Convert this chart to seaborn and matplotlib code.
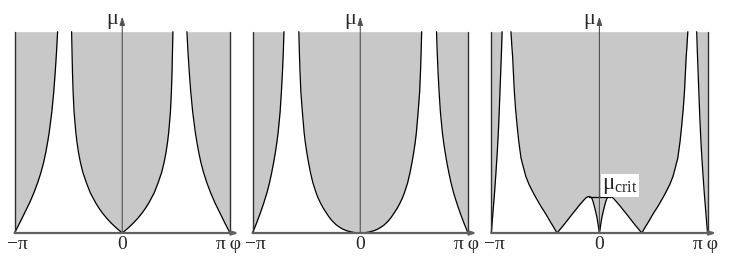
import numpy as np
import pandas as pd
import matplotlib
matplotlib.use("Agg")
import matplotlib.pyplot as plt
import seaborn as sns

# ---------------- data (phi in units of pi, mu normalised: top of chart = 1) -------------
# Panel 1
p1_center_mu = [0, 0.025, 0.05, 0.075, 0.1, 0.125, 0.15, 0.2, 0.25, 0.3, 0.35, 0.4, 0.45,
                0.5, 0.6, 0.7, 0.8, 0.9, 1.0]
p1_center_half = [0, 0.055, 0.104, 0.147, 0.185, 0.218, 0.247, 0.297, 0.333, 0.365, 0.388,
                  0.406, 0.42, 0.431, 0.447, 0.456, 0.462, 0.466, 0.47]
p1_outer_mu = [0, 0.05, 0.1, 0.15, 0.2, 0.25, 0.3, 0.35, 0.4, 0.45, 0.5, 0.6, 0.7, 0.8, 0.9, 1.0]
p1_outer_width = [0, 0.048, 0.094, 0.14, 0.18, 0.215, 0.245, 0.27, 0.29, 0.307, 0.322, 0.346,
                  0.364, 0.378, 0.39, 0.40]

# Panel 2
p2_center_mu = [0, 0.002, 0.006, 0.012, 0.02, 0.03, 0.04, 0.06, 0.08, 0.1, 0.125, 0.15, 0.175,
                0.2, 0.25, 0.3, 0.35, 0.4, 0.45, 0.5, 0.6, 0.7, 0.8, 0.9, 1.0]
p2_center_half = [0, 0.05, 0.09, 0.13, 0.165, 0.195, 0.222, 0.26, 0.29, 0.315, 0.345, 0.37, 0.392,
                  0.41, 0.44, 0.462, 0.48, 0.496, 0.51, 0.521, 0.537, 0.551, 0.559, 0.565, 0.57]
p2_outer_mu = [0, 0.05, 0.1, 0.15, 0.2, 0.25, 0.3, 0.35, 0.4, 0.45, 0.5, 0.6, 0.7, 0.8, 0.9, 1.0]
p2_outer_width = [0, 0.038, 0.073, 0.105, 0.134, 0.158, 0.178, 0.196, 0.212, 0.226, 0.238, 0.256,
                  0.268, 0.278, 0.286, 0.292]

# Panel 3
p3_sliver_mu = [0, 0.1, 0.2, 0.3, 0.4, 0.5, 0.6, 0.7, 0.8, 0.9, 1.0]
p3_sliver_width = [0, 0.015, 0.03, 0.043, 0.055, 0.065, 0.073, 0.08, 0.087, 0.094, 0.10]
p3_phi_left = [-0.818, -0.810, -0.802, -0.795, -0.787, -0.776, -0.762, -0.746, -0.725, -0.70,
               -0.68, -0.65, -0.617, -0.59, -0.56, -0.535, -0.509, -0.48, -0.45, -0.42, -0.392,
               -0.33, -0.26, -0.19, -0.15, -0.13, -0.112, -0.095, -0.08, -0.07, -0.058, -0.046,
               -0.035, -0.024, -0.016, -0.009, -0.004, 0.0]
p3_mu_left = [1.0, 0.93, 0.869, 0.79, 0.703, 0.62, 0.537, 0.455, 0.372, 0.32,
              0.28, 0.24, 0.205, 0.178, 0.15, 0.127, 0.106, 0.08, 0.052, 0.026, 0.0,
              0.04, 0.088, 0.135, 0.16, 0.172, 0.179, 0.181, 0.178, 0.173, 0.155, 0.131,
              0.107, 0.081, 0.056, 0.031, 0.012, 0.0]
mu_crit = 0.181
mu_crit_half = 0.10

tick_labels = ["\u2212\u03c0", "0", "\u03c0\u2009\u03c6"]
y_label = "\u03bc"
crit_label = "\u03bc$_{\\mathrm{crit}}$"

# ---------------- style ----------------
sns.set_theme(style="white")
plt.rcParams["font.family"] = ["Liberation Serif", "DejaVu Serif"]
plt.rcParams["mathtext.fontset"] = "custom"
plt.rcParams["mathtext.rm"] = "Liberation Serif"
GRAY = "#c8c8c8"
PI = np.pi

W, H = 733, 267
fig = plt.figure(figsize=(W / 100, H / 100), dpi=100)

# pixel positions of -pi and +pi for each panel
panel_px = [(14.5, 230.0), (252.5, 468.0), (491.3, 707.5)]
base_px, top_px = 233.0, 31.7
scale_y = base_px - top_px


def make_ax(xn, xp):
    unit = (xp - xn) / (2 * PI)
    left_px, right_px = xn - 14, xp + 16
    ax = fig.add_axes([left_px / W, 0, (right_px - left_px) / W, 1])
    ax.set_xlim(-PI - 14 / unit, PI + 16 / unit)
    ax.set_ylim(-(H - base_px) / scale_y, base_px / scale_y)
    ax.set_facecolor("none")
    ax.axis("off")
    return ax, unit


def line(ax, x, y, color="black", lw=0.9):
    sns.lineplot(x=np.asarray(x, float), y=np.asarray(y, float), ax=ax, sort=False,
                 estimator=None, color=color, lw=lw, legend=False)


def outer_regions(ax, mu, width):
    mu = np.asarray(mu, float)
    w = np.asarray(width, float) * PI
    ax.fill_betweenx(mu, -PI, -PI + w, color=GRAY, lw=0)
    ax.fill_betweenx(mu, PI - w, PI, color=GRAY, lw=0)
    line(ax, -PI + w, mu)
    line(ax, PI - w, mu)
    line(ax, [-PI, -PI], [0, 1], color="#303030", lw=1.0)
    line(ax, [PI, PI], [0, 1], color="#303030", lw=1.0)


def center_region(ax, mu, half):
    mu = np.asarray(mu, float)
    h = np.asarray(half, float) * PI
    ax.fill_betweenx(mu, -h, h, color=GRAY, lw=0)
    line(ax, -h, mu)
    line(ax, h, mu)


ARROW = "-|>,head_length=0.5,head_width=0.16"


def axes_decor(ax, unit):
    # y axis
    ax.annotate("", xy=(0, 1.075), xytext=(0, 0),
                arrowprops=dict(arrowstyle=ARROW, color="#505050", lw=0.8,
                                shrinkA=0, shrinkB=0, mutation_scale=10))
    # x axis
    ax.annotate("", xy=(PI + 9 / unit, 0), xytext=(-PI, 0),
                arrowprops=dict(arrowstyle=ARROW, color="#606060", lw=1.6,
                                shrinkA=0, shrinkB=0, mutation_scale=7))
    fs = 14
    ax.text(-PI + 3 / unit, -0.08, tick_labels[0], ha="center", va="baseline", fontsize=fs)
    ax.text(0, -0.08, tick_labels[1], ha="center", va="baseline", fontsize=fs)
    ax.text(PI - 2 / unit, -0.08, tick_labels[2], ha="center", va="baseline", fontsize=fs)
    ax.text(-10 / unit, 1.04, y_label, ha="center", va="baseline", fontsize=16)


# Panel 1
ax1, u1 = make_ax(*panel_px[0])
outer_regions(ax1, p1_outer_mu, p1_outer_width)
center_region(ax1, p1_center_mu, p1_center_half)
axes_decor(ax1, u1)

# Panel 2
ax2, u2 = make_ax(*panel_px[1])
outer_regions(ax2, p2_outer_mu, p2_outer_width)
center_region(ax2, p2_center_mu, p2_center_half)
axes_decor(ax2, u2)

# Panel 3
ax3, u3 = make_ax(*panel_px[2])
outer_regions(ax3, p3_sliver_mu, p3_sliver_width)
phi_full = np.array(p3_phi_left + [-v for v in reversed(p3_phi_left[:-1])]) * PI
mu_full = np.array(p3_mu_left + list(reversed(p3_mu_left[:-1])))
ax3.fill_between(phi_full, mu_full, 1.0, color=GRAY, lw=0)
line(ax3, phi_full, mu_full)
axes_decor(ax3, u3)
line(ax3, [-mu_crit_half * PI, mu_crit_half * PI], [mu_crit, mu_crit])
ax3.text(0.025 * PI, mu_crit + 0.004, crit_label, ha="left", va="bottom", fontsize=16.5,
         bbox=dict(facecolor="white", edgecolor="none", pad=0.6))

fig.savefig("out.png", dpi=100)
